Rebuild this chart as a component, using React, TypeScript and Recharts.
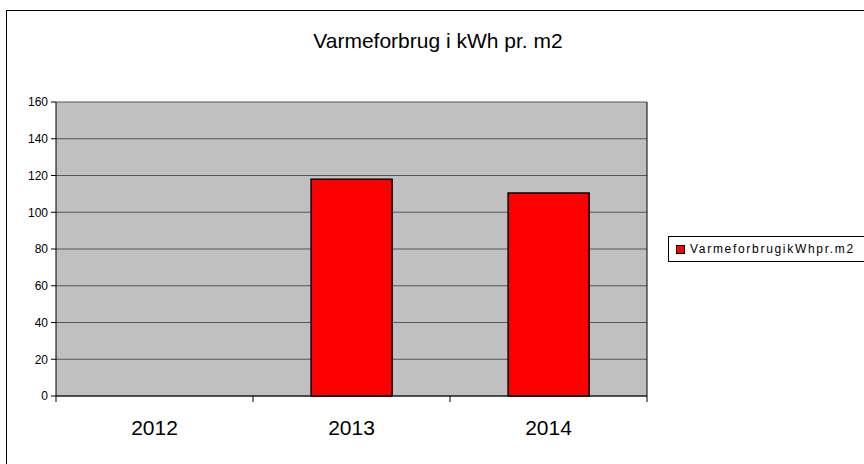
import { BarChart, Bar, XAxis, YAxis, CartesianGrid } from "recharts";

const years = ["2012", "2013", "2014"];
const heatUse = [null, 118, 110.5];
const yTicks = [0, 20, 40, 60, 80, 100, 120, 140, 160];
const seriesName = "VarmeforbrugikWhpr.m2";
const title = "Varmeforbrug i kWh pr. m2";

const data = years.map((y, i) => ({ year: y, value: heatUse[i] }));

const W = 864;
const H = 464;
const M = { top: 102, right: 217, bottom: 0, left: 0 };
const Y_W = 56;
const catW = (W - M.left - M.right - Y_W) / years.length;
const font = "'Liberation Sans', Arial, sans-serif";

function YearTick(props: any) {
  const { x, y, payload, index } = props;
  const left = x - catW / 2;
  return (
    <g>
      <line x1={left} y1={y} x2={left} y2={y + 6} stroke="#000" />
      {index === years.length - 1 && (
        <line x1={x + catW / 2} y1={y} x2={x + catW / 2} y2={y + 6} stroke="#000" />
      )}
      <text x={x} y={y + 39} textAnchor="middle" fontSize={21} fill="#000" fontFamily={font}>
        {payload.value}
      </text>
    </g>
  );
}

function LegendBox() {
  return (
    <div
      style={{
        position: "absolute",
        left: 668,
        top: 236,
        width: 210,
        height: 24,
        border: "1px solid #000",
        background: "#fff",
        display: "flex",
        alignItems: "center",
      }}
    >
      <span
        style={{
          display: "inline-block",
          width: 7,
          height: 7,
          background: "#ff0000",
          border: "1px solid #000",
          marginLeft: 7,
          marginRight: 5,
        }}
      />
      <span style={{ fontFamily: font, fontSize: 12, letterSpacing: 1.7, color: "#000" }}>
        {seriesName}
      </span>
    </div>
  );
}

export default function App() {
  return (
    <div
      style={{
        position: "absolute",
        left: 0,
        top: 0,
        width: W,
        height: H,
        overflow: "hidden",
        background: "#fff",
      }}
    >
      <div
        style={{
          position: "absolute",
          left: 6,
          top: 10,
          width: 900,
          height: 500,
          border: "1px solid #000",
        }}
      />
      <div
        style={{
          position: "absolute",
          left: 0,
          width: W,
          top: 29,
          textAlign: "center",
          fontFamily: font,
          fontSize: 21,
          color: "#000",
          paddingLeft: 6,
        }}
      >
        {title}
      </div>
      <div style={{ position: "absolute", left: 0, top: 0 }}>
        <BarChart width={W} height={H} data={data} margin={M} barCategoryGap="29.5%">
          <CartesianGrid vertical={false} fill="#c0c0c0" stroke="#555" strokeOpacity={1} />
          <CartesianGrid horizontal={false} verticalPoints={[W - M.right]} stroke="#000" />
          <XAxis
            dataKey="year"
            height={68}
            tickLine={false}
            tickSize={0}
            tickMargin={0}
            axisLine={{ stroke: "#000" }}
            tick={<YearTick />}
            interval={0}
          />
          <YAxis
            width={Y_W}
            domain={[0, 160]}
            ticks={yTicks}
            interval={0}
            tickSize={5}
            tickMargin={3}
            axisLine={{ stroke: "#000" }}
            tickLine={{ stroke: "#000" }}
            tick={{ fontSize: 12, fill: "#000", fontFamily: font }}
          />
          <Bar
            dataKey="value"
            name={seriesName}
            fill="#ff0000"
            stroke="#000"
            strokeWidth={1.5}
            isAnimationActive={false}
          />
        </BarChart>
      </div>
      <LegendBox />
    </div>
  );
}
